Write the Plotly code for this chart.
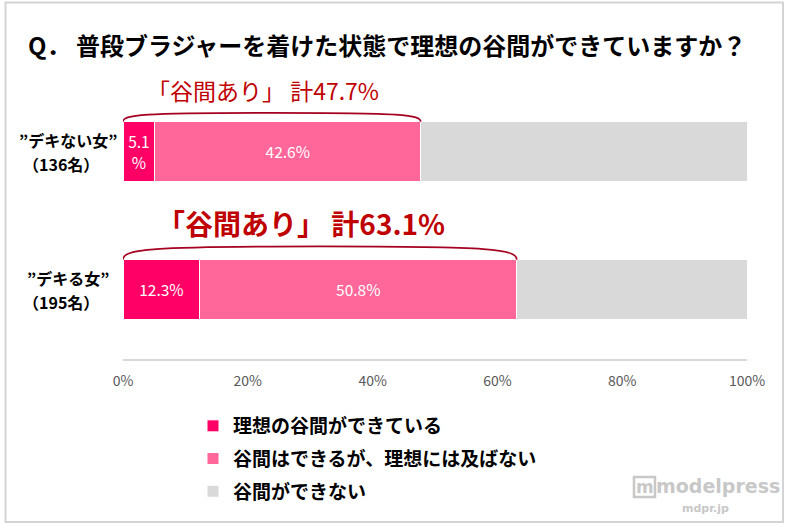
import plotly.graph_objects as go

# ---- data ----
groups = ["”デキない女”", "”デキる女”"]
counts = ["（136名）", "（195名）"]
series_names = ["理想の谷間ができている", "谷間はできるが、理想には及ばない", "谷間ができない"]
ideal = [5.1, 12.3]
partial = [42.6, 50.8]
no_cleavage = [52.3, 36.9]
x_ticks = [0, 20, 40, 60, 80, 100]
title_text = "Q． 普段ブラジャーを着けた状態で理想の谷間ができていますか？"

# ---- styles ----
colors = ["#FF0066", "#FF6699", "#D9D9D9"]
FONT = "Noto Sans CJK JP"
BAR_W = 0.43
ypos = [len(groups) - 1 - i for i in range(len(groups))]

def pct_text(v, narrow_limit=7):
    return f"{v}<br>%" if v < narrow_limit else f"{v}%"

fig = go.Figure()
for name, vals, col, show_text in zip(series_names, [ideal, partial, no_cleavage], colors, [True, True, False]):
    fig.add_trace(go.Bar(
        y=ypos, x=vals, orientation="h", name=f"<b>{name}</b>",
        legendgroup=name,
        marker=dict(color=col, line=dict(color="white", width=1)),
        width=BAR_W,
        text=[pct_text(v) for v in vals] if show_text else None,
        textposition="inside" if show_text else "none",
        insidetextanchor="middle",
        constraintext="none",
        textfont=dict(color="white", size=15.5, family=FONT),
        hoverinfo="skip",
    ))

# group labels (two lines each)
for g, c, y in zip(groups, counts, ypos):
    fig.add_annotation(x=-0.088, xref="paper", y=y, yref="y", yshift=11, xanchor="center", yanchor="middle",
                       text=f"<b>{g}</b>", showarrow=False,
                       font=dict(size=16, color="#000000", family=FONT))
    fig.add_annotation(x=-0.1, xref="paper", y=y, yref="y", yshift=-13, xanchor="center", yanchor="middle",
                       text=f"<b>{c}</b>", showarrow=False,
                       font=dict(size=16, color="#000000", family=FONT))

# totals with arcs
arc_rise = [0.065, 0.097]
label_size = [23, 28]
label_bold = [False, True]
label_x = [22.5, 28.5]
label_shift = [32, 37]
for i, y in enumerate(ypos):
    total = ideal[i] + partial[i]
    y0 = y + BAR_W / 2
    h = arc_rise[i]
    X = total
    path = (f"M 0,{y0} C 0,{y0 + 0.8*h} {X*0.06},{y0 + h} {X*0.5},{y0 + h} "
            f"C {X*0.94},{y0 + h} {X},{y0 + 0.8*h} {X},{y0}")
    fig.add_shape(type="path", path=path, xref="x", yref="y",
                  line=dict(color="#A50021", width=1.6))
    txt = f"「谷間あり」 計{total:.1f}%"
    if label_bold[i]:
        txt = f"<b>{txt}</b>"
    fig.add_annotation(x=label_x[i], xref="x", y=y0, yref="y", yshift=label_shift[i],
                       xanchor="center", yanchor="middle", text=txt, showarrow=False,
                       font=dict(size=label_size[i], color="#C00000", family=FONT))

# frame
L, T, W, H = 123, 100, 624, 259
def px(x):
    return (x - L) / W
def py(y):
    return (T + H - y) / H
fig.add_shape(type="rect", xref="paper", yref="paper", x0=px(5.5), x1=px(783), y0=py(522), y1=py(2.5),
              line=dict(color="#D4D4D4", width=2), layer="below")

# watermark
fig.add_shape(type="rect", xref="paper", yref="paper", x0=px(634), x1=px(655), y0=py(497), y1=py(477),
              line=dict(color="#C8C8C8", width=2.5), layer="below")
fig.add_annotation(xref="paper", yref="paper", x=px(644.5), y=py(487), text="<b>m</b>",
                   showarrow=False, xanchor="center", yanchor="middle",
                   font=dict(size=17, color="#C8C8C8", family="DejaVu Sans"))
fig.add_annotation(xref="paper", yref="paper", x=px(718), y=py(486), text="<b>modelpress</b>",
                   showarrow=False, xanchor="center", yanchor="middle",
                   font=dict(size=19, color="#C8C8C8", family="DejaVu Sans"))
fig.add_annotation(xref="paper", yref="paper", x=px(705), y=py(508), text="<b>mdpr.jp</b>",
                   showarrow=False, xanchor="center", yanchor="middle",
                   font=dict(size=11, color="#C8C8C8", family="DejaVu Sans"))

fig.update_layout(
    width=788, height=525,
    margin=dict(l=L, r=788 - L - W, t=T, b=525 - T - H),
    barmode="stack",
    paper_bgcolor="white", plot_bgcolor="white",
    title=dict(text=f"<b>{title_text}</b>", x=28/788, xanchor="left", y=1 - 47/525, yanchor="middle",
               font=dict(size=24, color="#000000", family=FONT)),
    xaxis=dict(range=[0, 100], tickvals=x_ticks, ticktext=[f"{t}%" for t in x_ticks],
               showgrid=False, zeroline=False, showline=True, linecolor="#D9D9D9", linewidth=2,
               ticks="", ticklabelstandoff=8,
               tickfont=dict(size=14, color="#595959", family=FONT), fixedrange=True),
    yaxis=dict(range=[-0.504, 1.373], showticklabels=False, showgrid=False, zeroline=False,
               showline=False, fixedrange=True),
    legend=dict(x=px(193), y=py(407), xanchor="left", yanchor="top", traceorder="grouped",
                tracegroupgap=5, font=dict(size=19, color="#000000", family=FONT),
                bgcolor="rgba(0,0,0,0)"),
    showlegend=True,
)

fig.write_html("out.html", config={"displayModeBar": False},
               post_script="document.body.style.margin='0';")
